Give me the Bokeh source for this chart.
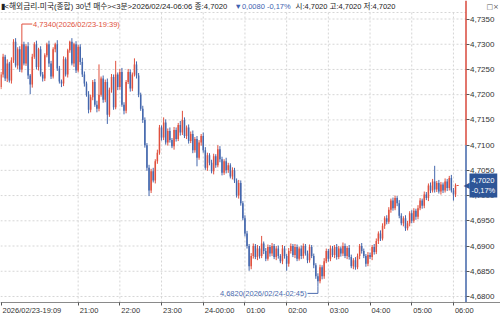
from datetime import datetime, timedelta
from bokeh.plotting import figure
from bokeh.models import Range1d, FixedTicker, CustomJSTickFormatter, Label, ColumnDataSource, LinearAxis
from bokeh.embed import file_html
from bokeh.resources import INLINE

# ---------------- data ----------------
first_time = "2026/02/23-19:09"
bar_minutes = 3
prev_close = 4.7100
first_open = 4.7215

closes = [
    4.7240, 4.7275, 4.7232, 4.7262, 4.7228, 4.7268, 4.7305, 4.7258, 4.7290, 4.7250,
    4.7300, 4.7262, 4.7296, 4.7238, 4.7220, 4.7275, 4.7300, 4.7255, 4.7290, 4.7240,
    4.7232, 4.7278, 4.7300, 4.7262, 4.7236, 4.7290, 4.7300, 4.7252, 4.7226, 4.7222,
    4.7270, 4.7240, 4.7288, 4.7305, 4.7262, 4.7300, 4.7248, 4.7295, 4.7265, 4.7240,
    4.7222, 4.7200, 4.7170, 4.7195, 4.7225, 4.7180, 4.7172, 4.7200, 4.7232, 4.7190,
    4.7225, 4.7160, 4.7210, 4.7235, 4.7175, 4.7240, 4.7215, 4.7245, 4.7180, 4.7168,
    4.7225, 4.7245, 4.7212, 4.7240, 4.7260, 4.7238, 4.7200, 4.7172, 4.7150, 4.7100,
    4.7055, 4.7010, 4.7048, 4.7030, 4.7068, 4.7085, 4.7135, 4.7115, 4.7145, 4.7105,
    4.7128, 4.7110, 4.7098, 4.7130, 4.7112, 4.7140, 4.7125, 4.7150, 4.7118, 4.7135,
    4.7108, 4.7122, 4.7090, 4.7112, 4.7075, 4.7105, 4.7118, 4.7090, 4.7055, 4.7080,
    4.7065, 4.7048, 4.7078, 4.7060, 4.7092, 4.7072, 4.7045, 4.7068, 4.7050, 4.7060,
    4.7038, 4.7050, 4.7030, 4.7000, 4.7025, 4.6985, 4.6955, 4.6925, 4.6900, 4.6860,
    4.6880, 4.6900, 4.6878, 4.6895, 4.6880, 4.6905, 4.6890, 4.6875, 4.6898, 4.6885,
    4.6900, 4.6878, 4.6895, 4.6880, 4.6870, 4.6895, 4.6880, 4.6865, 4.6890, 4.6900,
    4.6882, 4.6898, 4.6875, 4.6895, 4.6880, 4.6900, 4.6885, 4.6872, 4.6898, 4.6880,
    4.6862, 4.6840, 4.6830, 4.6858, 4.6840, 4.6870, 4.6890, 4.6875, 4.6895, 4.6882,
    4.6898, 4.6878, 4.6895, 4.6885, 4.6900, 4.6880, 4.6896, 4.6878, 4.6860, 4.6872,
    4.6858, 4.6880, 4.6900, 4.6890, 4.6880, 4.6865, 4.6882, 4.6878, 4.6898, 4.6888,
    4.6910, 4.6925, 4.6915, 4.6940, 4.6955, 4.6948, 4.6972, 4.6990, 4.6975, 4.6995,
    4.6985, 4.6960, 4.6945, 4.6955, 4.6935, 4.6945, 4.6965, 4.6950, 4.6970, 4.6958,
    4.6975, 4.6990, 4.6980, 4.7002, 4.6995, 4.7020, 4.7010, 4.7028, 4.7012, 4.7025,
    4.7008, 4.7022, 4.7010, 4.7028, 4.7015, 4.7035, 4.7010, 4.7002, 4.7020, 4.7020,
]
# wick lengths beyond the body, in units of 0.0001
wick_up = [
    5, 6, 4, 8, 3, 6, 5, 7, 4, 6, 40, 5, 4, 8, 3, 6, 4, 7, 3, 6,
    5, 4, 3, 7, 5, 4, 3, 8, 5, 4, 6, 4, 3, 2, 7, 3, 6, 4, 5, 8,
    6, 4, 7, 5, 4, 6, 8, 60, 4, 6, 5, 7, 4, 6, 5, 27, 4, 6, 8, 5,
    4, 6, 5, 4, 12, 6, 5, 4, 6, 5, 4, 6, 5, 7, 4, 6, 5, 4, 10, 6,
    5, 7, 4, 6, 5, 4, 8, 18, 5, 4, 6, 5, 7, 4, 6, 5, 4, 7, 6, 5,
    4, 6, 5, 4, 8, 6, 5, 4, 7, 5, 4, 6, 5, 4, 6, 5, 4, 6, 5, 4,
    6, 5, 4, 7, 5, 15, 4, 6, 5, 4, 6, 4, 5, 6, 4, 7, 5, 4, 6, 5,
    4, 6, 5, 4, 6, 5, 4, 6, 5, 4, 5, 4, 6, 5, 4, 6, 5, 4, 6, 5,
    4, 6, 5, 4, 7, 5, 4, 6, 5, 4, 6, 5, 4, 6, 5, 4, 6, 5, 4, 6,
    5, 4, 6, 5, 4, 6, 5, 4, 6, 5, 4, 6, 5, 4, 6, 5, 4, 6, 5, 4,
    6, 5, 4, 6, 5, 4, 6, 5, 31, 4, 6, 5, 4, 6, 5, 4, 6, 5, 4, 0,
]
wick_dn = [
    4, 6, 5, 7, 4, 6, 5, 4, 7, 5, 6, 4, 5, 7, 19, 6, 4, 5, 7, 4,
    6, 5, 4, 7, 5, 4, 6, 5, 4, 7, 5, 4, 6, 5, 4, 7, 5, 4, 6, 5,
    6, 4, 7, 5, 6, 4, 7, 5, 4, 6, 5, 18, 4, 6, 5, 4, 6, 5, 4, 7,
    5, 4, 6, 5, 4, 6, 5, 4, 6, 5, 6, 11, 5, 4, 6, 5, 4, 6, 5, 4,
    6, 5, 4, 7, 5, 4, 6, 5, 4, 6, 5, 4, 6, 5, 17, 4, 6, 5, 4, 6,
    5, 4, 6, 5, 4, 6, 5, 4, 6, 5, 4, 6, 5, 4, 6, 5, 4, 6, 5, 9,
    6, 5, 4, 6, 5, 4, 6, 5, 4, 6, 5, 4, 6, 5, 4, 6, 5, 14, 6, 5,
    4, 6, 5, 4, 6, 5, 4, 6, 5, 4, 6, 5, 10, 4, 6, 5, 4, 6, 5, 4,
    6, 5, 4, 6, 5, 4, 6, 5, 4, 6, 5, 4, 6, 5, 4, 6, 5, 4, 6, 5,
    4, 6, 5, 4, 6, 5, 4, 6, 5, 4, 6, 5, 4, 6, 5, 4, 6, 5, 4, 6,
    5, 4, 6, 5, 4, 6, 5, 4, 6, 5, 4, 6, 5, 4, 6, 5, 4, 12, 5, 0,
]

x_tick_bars = [0, 37, 57, 77, 97, 117, 137, 157, 177, 197, 217]
x_tick_labels = ["2026/02/23-19:09", "21:00", "22:00", "23:00", "24-00:00", "01:00",
                 "02:00", "03:00", "04:00", "05:00", "06:00"]
y_ticks = [4.6800, 4.6850, 4.6900, 4.6950, 4.7000, 4.7050, 4.7100,
           4.7150, 4.7200, 4.7250, 4.7300, 4.7350]

# ---------------- derived OHLC ----------------
n = len(closes)
opens = [first_open] + closes[:-1]
highs = [round(max(o, c) + u * 1e-4, 4) for o, c, u in zip(opens, closes, wick_up)]
lows = [round(min(o, c) - d * 1e-4, 4) for o, c, d in zip(opens, closes, wick_dn)]
t0 = datetime.strptime(first_time, "%Y/%m/%d-%H:%M")
times = [(t0 + timedelta(minutes=bar_minutes * i)).strftime("%Y/%m/%d-%H:%M") for i in range(n)]

def fmt(v):
    return f"{v:.4f}".replace(".", ",")

UP = "#e0503e"
DOWN = "#4467ad"
colors = [UP if c >= o else DOWN for o, c in zip(opens, closes)]
src = ColumnDataSource(dict(
    x=list(range(n)), open=opens, close=closes, high=highs, low=lows,
    top=[max(o, c) for o, c in zip(opens, closes)],
    bottom=[min(o, c) for o, c in zip(opens, closes)],
    color=colors))
doji_idx = [i for i in range(n) if abs(closes[i] - opens[i]) < 5e-5]
doji = ColumnDataSource(dict(x0=[i - 0.5 for i in doji_idx], x1=[i + 0.5 for i in doji_idx],
                             y=[closes[i] for i in doji_idx],
                             color=[colors[i] for i in doji_idx]))

# ---------------- layout (the frame is the whole 500x314 canvas) ----------------
W, H = 500, 314
PX_PER_BAR = 2.085
PX_PER_UNIT = 5045.0
x_start = -0.5 / PX_PER_BAR
x_range = Range1d(x_start, x_start + W / PX_PER_BAR)
TOP_TICK_PX = 18.5                      # pixel row of the 4,7350 tick
y_hi = y_ticks[-1] + TOP_TICK_PX / PX_PER_UNIT
y_range = Range1d(y_hi - H / PX_PER_UNIT, y_hi)

def xpx(px):   # canvas pixel column -> data x
    return x_start + px / PX_PER_BAR

def ypx(py):   # canvas pixel row -> data y
    return y_hi - py / PX_PER_UNIT

X_PRICE_AXIS = xpx(465.5)
Y_TIME_AXIS = ypx(302)
Y_PLOT_TOP = ypx(12)

NUM_FONT = "Liberation Sans"
KR_FONT = "Liberation Sans, Noto Sans CJK KR"

p = figure(width=W, height=H, x_range=x_range, y_range=y_range,
           output_backend="svg", toolbar_location=None,
           x_axis_location=None, y_axis_location=None,
           min_border=0, min_border_left=0, min_border_right=0,
           min_border_top=0, min_border_bottom=0)
p.background_fill_color = "white"
p.border_fill_color = "white"
p.outline_line_color = None
p.xgrid.visible = False
p.ygrid.visible = False

GRID = "#d6d6d6"
# horizontal / vertical dotted grid lines at the tick values
p.segment(x0=[x_range.start] * len(y_ticks), y0=y_ticks, x1=[X_PRICE_AXIS] * len(y_ticks), y1=y_ticks,
          line_color=GRID, line_dash="2 2", line_width=1)
hour_ticks = x_tick_bars[1:]
p.segment(x0=hour_ticks, y0=[Y_TIME_AXIS] * len(hour_ticks), x1=hour_ticks, y1=[Y_PLOT_TOP] * len(hour_ticks),
          line_color=GRID, line_dash="2 2", line_width=1)
p.segment(x0=[x_range.start], y0=[Y_PLOT_TOP], x1=[X_PRICE_AXIS], y1=[Y_PLOT_TOP],
          line_color=GRID, line_dash="2 2", line_width=1)

# right price axis (drawn at a fixed location inside the canvas)
ya = LinearAxis(fixed_location=X_PRICE_AXIS, ticker=FixedTicker(ticks=y_ticks),
                formatter=CustomJSTickFormatter(code="return tick.toFixed(4).replace('.', ',');"))
ya.axis_line_color = None
ya.major_tick_out = 3
ya.major_tick_in = 0
ya.minor_tick_line_color = None
ya.major_tick_line_color = "#555555"
ya.major_label_standoff = 1
ya.major_label_text_font = NUM_FONT
ya.major_label_text_font_size = "8px"
ya.major_label_text_color = "#333333"
p.add_layout(ya, "right")

# bottom time axis: labels start at the tick mark
CW = {":": 0.278, "/": 0.278, "-": 0.333}
def text_w(s, size=7.5):
    return sum(CW.get(ch, 0.556) for ch in s) * size
label_pos = [b + (text_w(s) / 2 + 1.5) / PX_PER_BAR for b, s in zip(x_tick_bars, x_tick_labels)]
xa = LinearAxis(fixed_location=Y_TIME_AXIS, ticker=FixedTicker(ticks=label_pos, minor_ticks=x_tick_bars),
                formatter=CustomJSTickFormatter(args=dict(pos=label_pos, labels=x_tick_labels), code="""
let best = 0, d = 1e9;
for (let k = 0; k < pos.length; k++) { const e = Math.abs(pos[k] - tick); if (e < d) { d = e; best = k; } }
return labels[best];
"""))
xa.axis_line_color = "#8a8a8a"
xa.major_tick_line_color = None
xa.major_tick_out = 0
xa.major_tick_in = 0
xa.minor_tick_out = 3
xa.minor_tick_in = 0
xa.minor_tick_line_color = "#555555"
xa.major_label_standoff = 0
xa.major_label_text_font = NUM_FONT
xa.major_label_text_font_size = "7.5px"
xa.major_label_text_color = "#333333"
p.add_layout(xa, "below")

# candles
p.segment(x0="x", y0="low", x1="x", y1="high", color="color", line_width=1, source=src)
p.vbar(x="x", width=0.72, top="top", bottom="bottom", fill_color="color", line_color=None, source=src)
p.segment(x0="x0", y0="y", x1="x1", y1="y", color="color", line_width=1, source=doji)

# price-axis line: red above previous close, blue below
p.segment(x0=[X_PRICE_AXIS], y0=[prev_close], x1=[X_PRICE_AXIS], y1=[y_range.end],
          line_color="#d9483b", line_width=1.5)
p.segment(x0=[X_PRICE_AXIS], y0=[Y_TIME_AXIS], x1=[X_PRICE_AXIS], y1=[prev_close],
          line_color="#4065a8", line_width=1.5)

# max / min markers
i_max = max(range(n), key=lambda i: highs[i])
i_min = min(range(n), key=lambda i: lows[i])
p.segment(x0=[i_max], y0=[highs[i_max]], x1=[i_max + 5], y1=[highs[i_max]],
          line_color="#e0503e", line_width=1)
p.add_layout(Label(x=i_max + 5.4, y=highs[i_max], text=f"{fmt(highs[i_max])}({times[i_max]})",
                   text_font=NUM_FONT, text_font_size="7.5px", text_color="#e0503c",
                   text_baseline="middle", text_align="left"))
y_min_lab = lows[i_min] - 7 / PX_PER_UNIT
p.segment(x0=[i_min - 5], y0=[y_min_lab], x1=[i_min], y1=[y_min_lab], line_color="#4a6aae", line_width=1)
p.segment(x0=[i_min], y0=[y_min_lab], x1=[i_min], y1=[lows[i_min]], line_color="#4a6aae", line_width=1)
p.add_layout(Label(x=i_min - 5.4, y=y_min_lab, text=f"{fmt(lows[i_min])}({times[i_min]})",
                   text_font=NUM_FONT, text_font_size="7.5px", text_color="#4a6aae",
                   text_baseline="middle", text_align="right"))

# header
last = n - 1
chg = closes[last] - prev_close
pct = chg / prev_close * 100
head_y = ypx(6)
pct_txt = f"{pct:.2f}%".replace(".", ",")
h1 = f"▮<해외금리-미국(종합) 30년 매수><3분>{times[last]} 종:{fmt(closes[last])}"
h2 = f"{'▼' if chg < 0 else '▲'}{fmt(abs(chg))} {pct_txt}"
h3 = f"시:{fmt(opens[last])} 고:{fmt(highs[last])} 저:{fmt(lows[last])}"
for txt, xx, col, fs in ((h1, 0, "#222222", "7.7px"), (h2, 234, "#3d62b0", "7.5px"),
                         (h3, 295, "#222222", "7.5px")):
    p.add_layout(Label(x=xx, x_units="screen", y=head_y, text=txt, text_font=KR_FONT,
                       text_font_size=fs, text_color=col, text_baseline="middle"))
p.add_layout(Label(x=486, x_units="screen", y=head_y, text="□×", text_font="DejaVu Sans",
                   text_font_size="7px", text_color="#555555", text_baseline="middle"))

# current price tag
TAG = "#2d5597"
p.add_layout(Label(x=463, x_units="screen", y=closes[last], text="◀", text_font="DejaVu Sans",
                   text_font_size="8px", text_color=TAG, text_baseline="middle"))
p.add_layout(Label(x=469, x_units="screen", y=closes[last],
                   text=f"{fmt(closes[last])}\n{pct_txt}",
                   text_font=NUM_FONT, text_font_size="7.5px", text_color="white",
                   background_fill_color=TAG, text_baseline="middle", padding=2))

open("out.html", "w").write(file_html(p, INLINE))
